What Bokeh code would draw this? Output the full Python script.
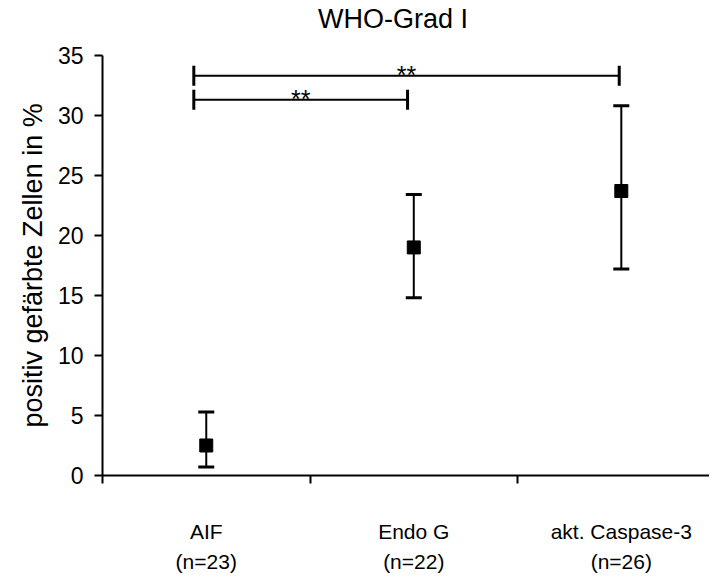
from bokeh.plotting import figure
from bokeh.models import (ColumnDataSource, Whisker, TeeHead, FixedTicker, LinearAxis,
                          Range1d, Label, Title)
from bokeh.embed import file_html
from bokeh.resources import INLINE
from bokeh.core.properties import value

# ---- data ----
title_text = "WHO-Grad I"
y_label = "positiv gefärbte Zellen in %"
categories = ["AIF", "Endo G", "akt. Caspase-3"]
n_labels = ["(n=23)", "(n=22)", "(n=26)"]
means = [2.5, 19.0, 23.7]
lower = [0.7, 14.8, 17.2]
upper = [5.3, 23.4, 30.8]
y_ticks = [0, 5, 10, 15, 20, 25, 30, 35]
sig_labels = ["**", "**"]
sig_start = [0.44, 0.44]
sig_end = [2.49, 1.47]
sig_level = [33.3, 31.3]

FONT = "Liberation Sans"
xs = [i + 0.5 for i in range(len(categories))]
bounds = [float(i) for i in range(len(categories))]
y_max = y_ticks[-1]

# the frame reaches the top of the figure; the axis line stops at 35,
# leaving room above it for the heading
p = figure(width=709, height=575, output_backend="svg", toolbar_location=None,
           x_range=Range1d(0, 2.925), y_range=Range1d(0, 39.57),
           x_axis_type=None, y_axis_type=None,
           min_border_left=102, min_border_right=0, min_border_top=0, min_border_bottom=90)
p.outline_line_color = None
p.background_fill_color = "white"
p.border_fill_color = "white"

p.add_layout(Label(x=1.40, y=38.0, text=title_text, text_align="center",
                   text_baseline="middle", text_font=FONT, text_font_size="27px",
                   text_color="black"))

# y axis
yaxis = LinearAxis(ticker=FixedTicker(ticks=y_ticks, minor_ticks=[]), bounds=(0, y_max))
yaxis.axis_line_width = 2
yaxis.axis_line_color = "black"
yaxis.major_tick_out = 8
yaxis.major_tick_in = 0
yaxis.major_tick_line_width = 2
yaxis.major_tick_line_color = "black"
yaxis.major_label_text_font = FONT
yaxis.major_label_text_font_size = "23px"
yaxis.major_label_text_color = "black"
yaxis.major_label_standoff = 11
p.add_layout(yaxis, "left")

# y axis title, positioned along the 0..35 part of the axis
ytitle = Title(text=y_label, align="left", offset=48, standoff=14,
               text_font=FONT, text_font_size="27px", text_font_style="normal",
               text_color="black")
p.add_layout(ytitle, "left")

# x axis: boundary ticks (minor) + category labels (major)
xaxis = LinearAxis(ticker=FixedTicker(ticks=xs, minor_ticks=bounds))
xaxis.major_label_overrides = {x: c for x, c in zip(xs, categories)}
xaxis.axis_line_width = 2
xaxis.axis_line_color = "black"
xaxis.major_tick_line_color = None
xaxis.major_tick_out = 0
xaxis.major_tick_in = 0
xaxis.minor_tick_out = 8
xaxis.minor_tick_in = 0
xaxis.minor_tick_line_width = 2
xaxis.minor_tick_line_color = "black"
xaxis.major_label_text_font = FONT
xaxis.major_label_text_font_size = "21px"
xaxis.major_label_text_color = "black"
xaxis.major_label_standoff = 36
p.add_layout(xaxis, "below")

naxis = LinearAxis(ticker=FixedTicker(ticks=xs, minor_ticks=[]))
naxis.major_label_overrides = {x: n for x, n in zip(xs, n_labels)}
naxis.axis_line_color = None
naxis.major_tick_line_color = None
naxis.minor_tick_line_color = None
naxis.major_tick_out = 0
naxis.major_tick_in = 0
naxis.major_label_text_font = FONT
naxis.major_label_text_font_size = "21px"
naxis.major_label_text_color = "black"
naxis.major_label_standoff = 4
p.add_layout(naxis, "below")

# error bars and means
src = ColumnDataSource(dict(x=xs, mean=means, lower=lower, upper=upper))
p.add_layout(Whisker(source=src, base="x", lower="lower", upper="upper",
                     line_width=2, line_color="black",
                     upper_head=TeeHead(size=16, line_width=3, line_color="black"),
                     lower_head=TeeHead(size=16, line_width=3, line_color="black")))
p.scatter(x="x", y="mean", source=src, marker="square", size=13,
          fill_color="black", line_color="black")

# significance brackets
mids = [(a + b) / 2 for a, b in zip(sig_start, sig_end)]
bsrc = ColumnDataSource(dict(start=sig_start, end=sig_end, level=sig_level,
                             label=sig_labels, mid=mids))
p.add_layout(Whisker(source=bsrc, base="level", lower="start", upper="end",
                     dimension="width", line_width=2, line_color="black",
                     upper_head=TeeHead(size=20, line_width=3, line_color="black"),
                     lower_head=TeeHead(size=20, line_width=3, line_color="black")))
p.text(x="mid", y="level", text="label", source=bsrc, text_align="center",
       text_baseline="alphabetic", text_font=value(FONT), text_font_size="25px",
       text_color="black", y_offset=-1)

open("out.html", "w").write(file_html(p, INLINE))
